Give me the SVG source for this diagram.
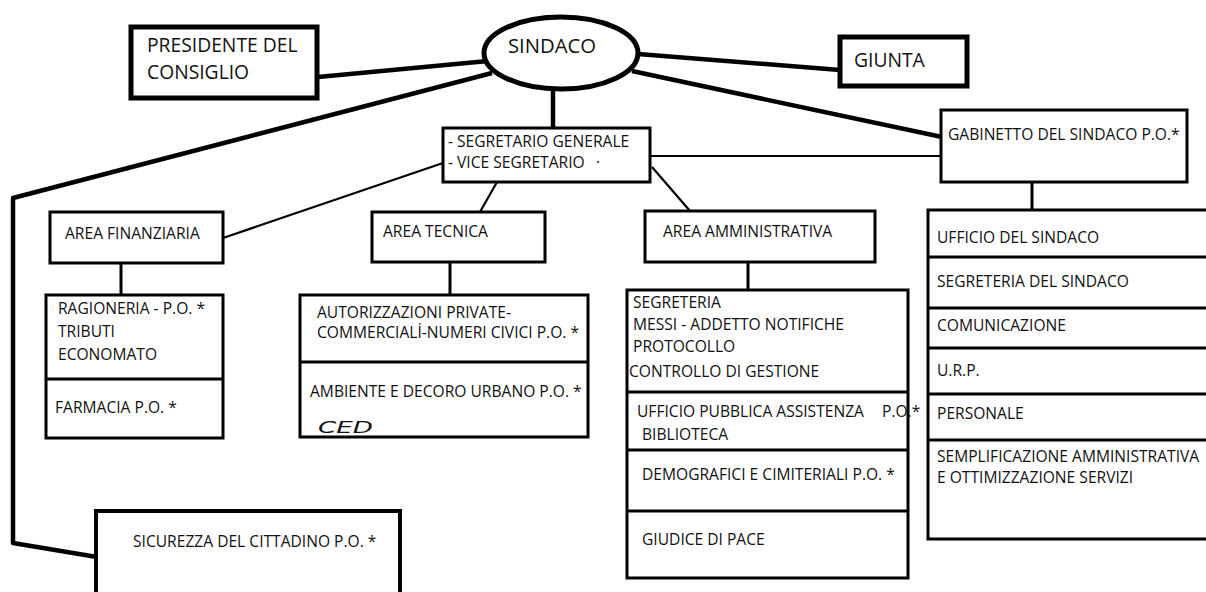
<svg xmlns="http://www.w3.org/2000/svg" width="1206" height="592" viewBox="0 0 1206 592">
<style>
  .t { font-family: "Open Sans", "Liberation Sans", sans-serif; font-size: 15.6px; fill: #111; }
  .big { font-size: 19.3px; }
  .box { fill: #fff; stroke: #000; stroke-width: 3; }
  .thick { fill: #fff; stroke: #000; stroke-width: 5; }
  .div { stroke: #000; stroke-width: 3; fill: none; }
  .c4 { stroke: #000; stroke-width: 4.5; fill: none; stroke-linejoin: round; }
  .c3 { stroke: #000; stroke-width: 3; fill: none; }
  .c2 { stroke: #000; stroke-width: 2.2; fill: none; }
  .hand { font-family: "DejaVu Sans", sans-serif; font-style: italic; font-size: 16px; fill: #111; }
</style>
<rect width="1206" height="592" fill="#fff"/>

<g id="connectors">
  <line class="c4" x1="318" y1="77" x2="488" y2="61"/>
  <line class="c4" x1="638" y1="54" x2="840" y2="70"/>
  <line class="c4" x1="632" y1="71" x2="942" y2="137"/>
  <polyline class="c4" points="492,73 13,198 13,543 97,557"/>
  <line class="c4" x1="553" y1="89" x2="553" y2="128"/>
  <line class="c2" x1="650" y1="156" x2="941" y2="156"/>
  <line class="c2" x1="443" y1="163" x2="223" y2="238"/>
  <line class="c2" x1="497" y1="182" x2="480" y2="212"/>
  <line class="c2" x1="652" y1="167" x2="690" y2="211"/>
  <line class="c3" x1="1032" y1="182" x2="1032" y2="210"/>
  <line class="c3" x1="121" y1="263" x2="121" y2="295"/>
  <line class="c3" x1="450" y1="262" x2="450" y2="295"/>
  <line class="c3" x1="748" y1="262" x2="748" y2="290"/>
</g>

<g id="sindaco">
  <ellipse cx="561" cy="53" rx="77" ry="36" fill="#fff" stroke="#000" stroke-width="5"/>
  <text class="t" x="508" y="53" style="font-size:20.3px">SINDACO</text>
</g>

<g id="presidente">
  <rect class="thick" x="131" y="27" width="186" height="71"/>
  <text class="t big" x="147" y="52">PRESIDENTE DEL</text>
  <text class="t big" x="147" y="79">CONSIGLIO</text>
</g>

<g id="giunta">
  <rect class="thick" x="840" y="37" width="127" height="49"/>
  <text class="t big" x="854" y="67">GIUNTA</text>
</g>

<g id="segretario">
  <rect class="box" x="443" y="128" width="207" height="54" stroke-width="2.5"/>
  <text class="t" x="448" y="147">- SEGRETARIO GENERALE</text>
  <text class="t" x="448" y="168">- VICE SEGRETARIO</text>
  <text class="t" x="596" y="168">·</text>
</g>

<g id="gabinetto">
  <rect class="box" x="941" y="110" width="246" height="72"/>
  <text class="t" x="948" y="140">GABINETTO DEL SINDACO P.O.*</text>
</g>

<g id="area-finanziaria">
  <rect class="box" x="50" y="212" width="173" height="51"/>
  <text class="t" x="65" y="239">AREA FINANZIARIA</text>
</g>

<g id="uffici-finanziaria">
  <rect class="box" x="46" y="295" width="177" height="143"/>
  <line class="div" x1="46" y1="379" x2="223" y2="379"/>
  <text class="t" x="58" y="314">RAGIONERIA - P.O. *</text>
  <text class="t" x="58" y="337">TRIBUTI</text>
  <text class="t" x="58" y="360">ECONOMATO</text>
  <text class="t" x="55" y="413">FARMACIA P.O. *</text>
</g>

<g id="area-tecnica">
  <rect class="box" x="372" y="212" width="173" height="50"/>
  <text class="t" x="383" y="237">AREA TECNICA</text>
</g>

<g id="uffici-tecnica">
  <rect class="box" x="300" y="295" width="288" height="142"/>
  <line class="div" x1="300" y1="362" x2="588" y2="362"/>
  <text class="t" x="317" y="318">AUTORIZZAZIONI PRIVATE-</text>
  <text class="t" x="317" y="338">COMMERCIALİ-NUMERI CIVICI P.O. *</text>
  <text class="t" x="310" y="397">AMBIENTE E DECORO URBANO P.O. *</text>
  <text class="hand" x="318" y="433" textLength="55" lengthAdjust="spacingAndGlyphs">CED</text>
</g>

<g id="area-amministrativa">
  <rect class="box" x="645" y="211" width="230" height="51"/>
  <text class="t" x="663" y="237">AREA AMMINISTRATIVA</text>
</g>

<g id="uffici-amministrativa">
  <rect class="box" x="627" y="290" width="281" height="288"/>
  <line class="div" x1="627" y1="392" x2="908" y2="392"/>
  <line class="div" x1="627" y1="450" x2="908" y2="450"/>
  <line class="div" x1="627" y1="511" x2="908" y2="511"/>
  <text class="t" x="633" y="308">SEGRETERIA</text>
  <text class="t" x="633" y="330">MESSI - ADDETTO NOTIFICHE</text>
  <text class="t" x="633" y="352">PROTOCOLLO</text>
  <text class="t" x="629" y="377">CONTROLLO DI GESTIONE</text>
  <text class="t" x="637" y="417">UFFICIO PUBBLICA ASSISTENZA</text>
  <text class="t" x="882" y="417">P.O.*</text>
  <text class="t" x="642" y="440">BIBLIOTECA</text>
  <text class="t" x="642" y="480">DEMOGRAFICI E CIMITERIALI P.O. *</text>
  <text class="t" x="642" y="545">GIUDICE DI PACE</text>
</g>

<g id="uffici-gabinetto">
  <rect class="box" x="928" y="210" width="300" height="329"/>
  <line class="div" x1="928" y1="257" x2="1206" y2="257"/>
  <line class="div" x1="928" y1="308" x2="1206" y2="308"/>
  <line class="div" x1="928" y1="348" x2="1206" y2="348"/>
  <line class="div" x1="928" y1="394" x2="1206" y2="394"/>
  <line class="div" x1="928" y1="440" x2="1206" y2="440"/>
  <text class="t" x="937" y="243">UFFICIO DEL SINDACO</text>
  <text class="t" x="937" y="287">SEGRETERIA DEL SINDACO</text>
  <text class="t" x="937" y="331">COMUNICAZIONE</text>
  <text class="t" x="937" y="376">U.R.P.</text>
  <text class="t" x="937" y="419">PERSONALE</text>
  <text class="t" x="937" y="462">SEMPLIFICAZIONE AMMINISTRATIVA</text>
  <text class="t" x="937" y="483">E OTTIMIZZAZIONE SERVIZI</text>
</g>

<g id="sicurezza">
  <rect x="96" y="511" width="304" height="100" fill="#fff" stroke="#000" stroke-width="4"/>
  <text class="t" x="133" y="547">SICUREZZA DEL CITTADINO P.O. *</text>
</g>
</svg>
